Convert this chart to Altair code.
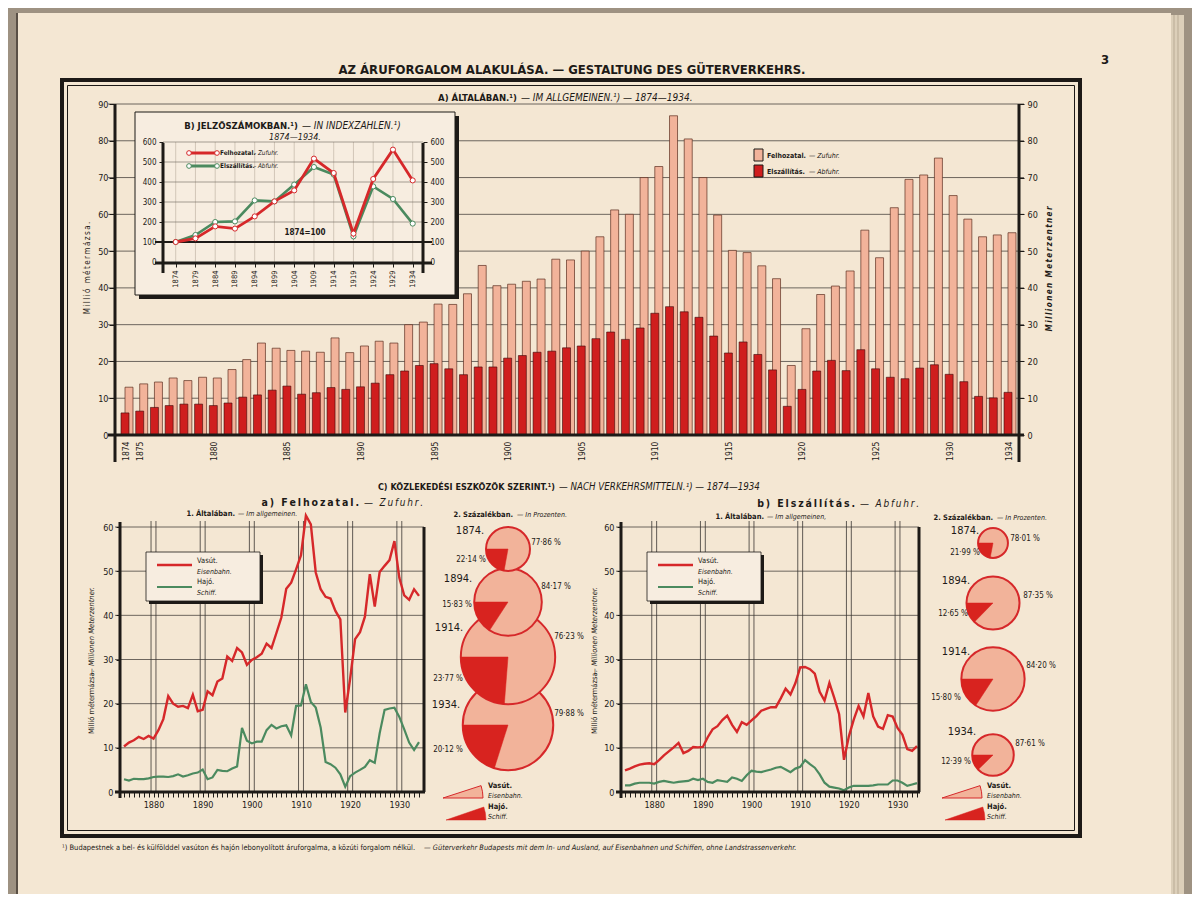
import altair as alt
import pandas as pd

W, H = 1184, 886


def cx(v):
    return v - 8


def cy(v):
    return v - 8


def off_left(x):
    return -(x - 8)


def off_right(x):
    return (x - 8) - W


def off_bottom(y):
    return (y - 8) - H


FONT = "Liberation Sans Narrow, DejaVu Sans Condensed, Roboto Condensed, Roboto, sans-serif"
BG = "#9e9282"
PAPER = "#f4e7d3"
BOXFILL = "#f7ede0"
INK = "#1d1a17"
GRID = "#4a4540"
RED = "#d6282a"
GREEN = "#4b8a5f"
LIGHT = "#f2b39a"
DARK = "#cf1e1e"
WEDGE = "#d8231f"

# ---------------- data ----------------
years = list(range(1874, 1935))
zufuhr_total = [13.0, 13.9, 14.4, 15.5, 14.8, 15.7, 15.5, 17.8, 20.5, 25.0,
                23.6, 23.0, 22.8, 22.5, 26.4, 22.4, 24.2, 25.5, 25.0, 30.0,
                30.7, 35.6, 35.5, 38.4, 46.1, 40.6, 41.0, 41.8, 42.4, 47.8,
                47.6, 50.0, 53.9, 61.2, 60.0, 70.0, 73.0, 86.8, 80.5, 70.0,
                59.8, 50.2, 49.6, 46.0, 42.5, 18.9, 28.9, 38.2, 40.5, 44.6,
                55.7, 48.2, 61.8, 69.5, 70.7, 75.3, 65.1, 58.7, 53.9, 54.4, 55.0]
abfuhr_total = [6.0, 6.5, 7.5, 8.0, 8.4, 8.4, 8.0, 8.7, 10.3, 10.9,
                12.2, 13.3, 11.1, 11.5, 12.9, 12.4, 13.1, 14.1, 16.4, 17.4,
                18.9, 19.4, 18.0, 16.4, 18.5, 18.5, 20.9, 21.6, 22.5, 22.8,
                23.7, 24.2, 26.2, 28.0, 26.0, 29.1, 33.1, 34.9, 33.5, 32.0,
                26.9, 22.3, 25.3, 21.9, 17.7, 7.8, 12.4, 17.4, 20.3, 17.5,
                23.2, 18.0, 15.7, 15.3, 18.2, 19.1, 16.5, 14.5, 10.5, 10.1, 11.6]
zufuhr_rail = [10.3, 11.2, 11.7, 12.5, 12.0, 12.7, 12.1, 14.0, 16.5, 21.7,
               20.0, 19.3, 19.5, 19.0, 22.0, 18.3, 18.6, 22.8, 21.9, 25.0,
               25.7, 30.7, 29.7, 32.6, 31.6, 28.8, 29.9, 30.5, 31.3, 33.6,
               32.6, 36.0, 39.5, 46.0, 47.4, 50.4, 53.6, 62.6, 60.6, 49.7,
               45.9, 44.2, 43.8, 41.0, 39.1, 18.0, 25.7, 34.6, 36.2, 39.7,
               49.3, 42.0, 49.8, 51.2, 52.5, 56.8, 48.5, 44.5, 43.5, 45.9, 44.4]
zufuhr_ship = [2.9, 2.6, 3.0, 2.9, 2.9, 3.1, 3.4, 3.5, 3.5, 3.4,
               3.6, 4.0, 3.5, 3.8, 4.2, 4.4, 5.1, 2.9, 3.3, 5.0,
               4.8, 4.7, 5.3, 5.8, 14.5, 11.6, 11.0, 11.4, 11.4, 14.0,
               15.2, 14.4, 14.9, 15.1, 12.8, 19.5, 19.6, 24.4, 20.4, 19.1,
               14.6, 6.8, 6.3, 5.5, 4.0, 1.2, 3.6, 4.4, 5.0, 5.7,
               7.2, 6.6, 13.3, 18.6, 18.9, 19.1, 17.0, 14.2, 11.2, 9.5, 11.3]
abfuhr_rail = [4.9, 5.3, 5.8, 6.2, 6.4, 6.5, 6.3, 7.2, 8.3, 9.2,
               10.1, 11.1, 8.8, 9.3, 10.2, 10.1, 10.2, 12.4, 14.2, 14.9,
               16.3, 17.3, 15.2, 13.6, 15.8, 15.2, 16.2, 17.2, 18.4, 18.8,
               19.2, 19.2, 21.2, 23.4, 22.1, 24.6, 28.2, 28.3, 27.8, 26.8,
               22.7, 20.7, 24.7, 21.3, 17.6, 7.3, 12.6, 16.4, 19.5, 17.1,
               22.4, 17.1, 14.8, 14.3, 17.4, 17.1, 14.5, 13.0, 9.7, 9.3, 10.4]
abfuhr_ship = [1.5, 1.5, 1.9, 2.1, 2.1, 2.1, 1.9, 2.3, 2.5, 2.3,
               2.1, 2.3, 2.4, 2.5, 3.0, 2.7, 3.0, 2.3, 2.1, 2.7,
               2.5, 2.3, 3.3, 3.0, 2.5, 3.8, 4.8, 4.6, 4.5, 4.8,
               5.1, 5.5, 5.7, 5.1, 4.5, 5.3, 5.7, 7.2, 6.3, 5.5,
               4.0, 2.1, 1.2, 1.0, 0.8, 0.4, 1.0, 1.4, 1.4, 1.4,
               1.4, 1.5, 1.7, 1.7, 1.7, 2.6, 2.6, 2.1, 1.4, 1.7, 2.0]

idx_years = list(range(1874, 1935, 5))
idx_zufuhr = [100, 118, 178, 167, 228, 303, 358, 517, 445, 142, 415, 562, 408]
idx_abfuhr = [100, 135, 200, 203, 308, 303, 387, 475, 437, 128, 378, 315, 192]

pie_years = [1874, 1894, 1914, 1934]
pie_zufuhr_ship = [22.14, 15.83, 23.77, 20.12]
pie_zufuhr_rail = [77.86, 84.17, 76.23, 79.88]
pie_abfuhr_ship = [21.99, 12.65, 15.80, 12.39]
pie_abfuhr_rail = [78.01, 87.35, 84.20, 87.61]

bar_labels = [1874, 1875] + list(range(1880, 1931, 5)) + [1934]
bar_y_ticks = list(range(0, 91, 10))
ins_ticks = list(range(0, 601, 100))
lc_ticks = list(range(0, 61, 10))
decades = list(range(1880, 1931, 10))

for s in (zufuhr_total, abfuhr_total, zufuhr_rail, zufuhr_ship, abfuhr_rail, abfuhr_ship):
    assert len(s) == len(years)

ONE = pd.DataFrame({"k": [0]})
layers = []
L = layers.append


def ax(**kw):
    base = dict(title=None, grid=False, labelFont=FONT, labelColor=INK,
                domainColor=INK, tickColor=INK, zindex=1, labelFlush=False,
                labelOverlap=False)
    base.update(kw)
    return alt.Axis(**base)


def box(x1, y1, x2, y2, fill="transparent", stroke="transparent", sw=0.0):
    return alt.Chart(ONE).mark_rect(fill=fill, stroke=stroke, strokeWidth=sw).encode(
        x=alt.value(cx(x1)), x2=alt.value(cx(x2)), y=alt.value(cy(y1)), y2=alt.value(cy(y2)))


def txt(x, y, s, size=9, weight="normal", style="normal", align="center", angle=0, color=INK):
    return alt.Chart(ONE).mark_text(text=s, fontSize=size, fontWeight=weight, fontStyle=style,
                                    align=align, baseline="middle", angle=angle, color=color,
                                    font=FONT).encode(x=alt.value(cx(x)), y=alt.value(cy(y)))


def hline(x1, x2, y, color=INK, sw=1.0):
    return alt.Chart(ONE).mark_rule(color=color, strokeWidth=sw).encode(
        x=alt.value(cx(x1)), x2=alt.value(cx(x2)), y=alt.value(cy(y)))


def vline(x, y1, y2, color=INK, sw=1.0):
    return alt.Chart(ONE).mark_rule(color=color, strokeWidth=sw).encode(
        x=alt.value(cx(x)), y=alt.value(cy(y1)), y2=alt.value(cy(y2)))


def spaced(s):
    return "\u2009".join(list(s))


def pct(v):
    return f"{v:.2f}".replace(".", "\u00b7") + " %"


# ---------------- page ----------------
L(box(17, 13, 1171, 900, fill=PAPER))
L(box(1171, 15, 1184, 900, fill="#dccfb9"))
L(vline(1174, 15, 900, "#b9ab95", 1))
L(vline(1178, 15, 900, "#b9ab95", 1))
L(vline(17, 13, 900, "#5a5046", 2))
L(box(62, 80, 1080, 836, stroke=INK, sw=4))
L(box(67.5, 85.5, 1074.5, 830.5, stroke=INK, sw=1))

L(txt(572, 70, "AZ ÁRUFORGALOM ALAKULÁSA. — GESTALTUNG DES GÜTERVERKEHRS.", size=13, weight="bold"))
L(txt(1105, 60, "3", size=13, weight="bold"))

# ---------------- A) bar chart ----------------
bar_df = pd.DataFrame({"year": years, "zufuhr": zufuhr_total, "abfuhr": abfuhr_total})
bar_x = alt.Scale(domain=[1874, 1934], range=[cx(125), cx(1008)], nice=False, zero=False, padding=0)
bar_y = alt.Scale(domain=[0, 90], range=[cy(435), cy(104)], nice=False, padding=0)

L(alt.Chart(pd.DataFrame({"v": bar_y_ticks[1:]})).mark_rule(color=GRID, strokeWidth=0.8).encode(
    y=alt.Y("v:Q", scale=bar_y, axis=ax(orient="right", offset=off_right(1019), values=bar_y_ticks,
                                         domain=False, tickSize=5, labelFontSize=9, labelPadding=3)),
    x=alt.value(cx(108)), x2=alt.value(cx(1024))))

L(alt.Chart(bar_df).mark_bar(size=8, xOffset=4, color=LIGHT, stroke="#5b2e1f", strokeWidth=0.7,
                             orient="vertical").encode(
    x=alt.X("year:Q", scale=bar_x, axis=ax(orient="bottom", offset=off_bottom(437), values=bar_labels,
                                            format="d", labelAngle=270, domain=False, ticks=False,
                                            labelFontSize=8.5, labelPadding=4)),
    y=alt.Y("zufuhr:Q", scale=bar_y, axis=ax(orient="left", offset=off_left(115), values=bar_y_ticks,
                                              domain=False, tickSize=6, labelFontSize=9, labelPadding=1))))
L(alt.Chart(bar_df).mark_bar(size=8, color=DARK, stroke="#3a0808", strokeWidth=0.6,
                             orient="vertical").encode(
    x=alt.X("year:Q", scale=bar_x, axis=None),
    y=alt.Y("abfuhr:Q", scale=bar_y, axis=None)))
L(hline(108, 1024, 435, INK, 3))
L(vline(115, 104, 462, INK, 3))
L(vline(1019, 104, 462, INK, 3))

L(txt(517, 98, "A) ÁLTALÁBAN.¹)", size=9.5, weight="bold", align="right"))
L(txt(521, 98, "— IM ALLGEMEINEN.¹) — 1874—1934.", size=10, style="italic", align="left"))
L(txt(88, 268, spaced("Millió métermázsa."), size=8, angle=270))
L(txt(1050, 269, spaced("Millionen Meterzentner"), size=8, weight="bold", style="italic", angle=270))

# bar legend
L(box(754, 149, 763, 161, fill=LIGHT, stroke=INK, sw=1))
L(txt(767, 156, "Felhozatal.", size=7, weight="bold", align="left"))
L(txt(809, 156, "— Zufuhr.", size=7, style="italic", align="left"))
L(box(754, 165, 763, 177, fill=DARK, stroke=INK, sw=1))
L(txt(767, 172, "Elszállítás.", size=7, weight="bold", align="left"))
L(txt(809, 172, "— Abfuhr.", size=7, style="italic", align="left"))

# ---------------- B) inset ----------------
L(box(139, 116, 459, 299, fill=INK))
L(box(135, 112, 455, 295, fill=BOXFILL, stroke=INK, sw=1))
idx_df = pd.DataFrame({"year": idx_years, "zufuhr": idx_zufuhr, "abfuhr": idx_abfuhr})
ins_x = alt.Scale(domain=[1874, 1934], range=[cx(175.7), cx(412.7)], nice=False, zero=False, padding=0)
ins_y = alt.Scale(domain=[0, 600], range=[cy(262), cy(142)], nice=False, padding=0)
L(alt.Chart(idx_df).mark_rule(color="#b9ad9d", strokeWidth=0.6).encode(
    x=alt.X("year:Q", scale=ins_x, axis=None), y=alt.value(cy(142)), y2=alt.value(cy(262))))
L(alt.Chart(pd.DataFrame({"v": ins_ticks[2:]})).mark_rule(color="#6b645c", strokeWidth=0.6).encode(
    y=alt.Y("v:Q", scale=ins_y, axis=None), x=alt.value(cx(163)), x2=alt.value(cx(423))))
L(alt.Chart(pd.DataFrame({"v": [idx_zufuhr[0]]})).mark_rule(color=INK, strokeWidth=2).encode(
    y=alt.Y("v:Q", scale=ins_y, axis=None), x=alt.value(cx(155)), x2=alt.value(cx(432))))
L(hline(155, 432, 263, INK, 3))
L(vline(163, 143, 273, INK, 3))
L(vline(423, 143, 273, INK, 3))
L(alt.Chart(idx_df).mark_line(color=GREEN, strokeWidth=2.6,
                              point=alt.OverlayMarkDef(filled=True, fill="white", stroke=GREEN,
                                                       strokeWidth=1, size=26)).encode(
    x=alt.X("year:Q", scale=ins_x, axis=None),
    y=alt.Y("abfuhr:Q", scale=ins_y, axis=ax(orient="right", offset=off_right(423), values=ins_ticks,
                                              domain=False, tickSize=4, labelFontSize=8, labelPadding=3))))
L(alt.Chart(idx_df).mark_line(color=RED, strokeWidth=2.8,
                              point=alt.OverlayMarkDef(filled=True, fill="white", stroke=RED,
                                                       strokeWidth=1, size=26)).encode(
    x=alt.X("year:Q", scale=ins_x, axis=ax(orient="bottom", offset=off_bottom(263), values=idx_years,
                                            format="d", labelAngle=270, domain=False, tickSize=4,
                                            labelFontSize=7.5, labelPadding=3)),
    y=alt.Y("zufuhr:Q", scale=ins_y, axis=ax(orient="left", offset=off_left(163), values=ins_ticks,
                                              domain=False, tickSize=4, labelFontSize=8, labelPadding=3))))
L(txt(298, 126, "B) JELZŐSZÁMOKBAN.¹)", size=9.5, weight="bold", align="right"))
L(txt(302, 126, "— IN INDEXZAHLEN.¹)", size=10, style="italic", align="left"))
L(txt(295, 137, "1874—1934.", size=9, style="italic"))
L(txt(305, 233, "1874=100", size=8, weight="bold"))
for yy, col, a, b in ((153, RED, "Felhozatal.", "- Zufuhr."), (166, GREEN, "Elszállítás.", "- Abfuhr.")):
    L(hline(189, 217, yy, col, 3))
    L(alt.Chart(ONE).mark_point(filled=True, fill="white", stroke=col, strokeWidth=1, size=22,
                                opacity=1).encode(x=alt.value(cx(189)), y=alt.value(cy(yy))))
    L(alt.Chart(ONE).mark_point(filled=True, fill="white", stroke=col, strokeWidth=1, size=22,
                                opacity=1).encode(x=alt.value(cx(217)), y=alt.value(cy(yy))))
    L(txt(220, yy, a, size=6.4, weight="bold", align="left"))
    L(txt(254, yy, b, size=6.4, style="italic", align="left"))

# ---------------- C) titles ----------------
L(txt(555, 487, "C) KÖZLEKEDÉSI ESZKÖZÖK SZERINT.¹)", size=9, weight="bold", align="right"))
L(txt(559, 487, "— NACH VERKEHRSMITTELN.¹) — 1874—1934", size=9.7, style="italic", align="left"))
L(txt(359, 503, spaced("a) Felhozatal."), size=10.5, weight="bold", align="right"))
L(txt(364, 503, spaced("— Zufuhr."), size=10, style="italic", align="left"))
L(txt(855, 504, spaced("b) Elszállítás."), size=10.5, weight="bold", align="right"))
L(txt(860, 504, spaced("— Abfuhr."), size=10, style="italic", align="left"))
L(txt(235, 514, "1. Általában.", size=7.5, weight="bold", align="right"))
L(txt(238, 514, "— Im allgemeinen.", size=7, style="italic", align="left"))
L(txt(764, 517, "1. Általában.", size=7.5, weight="bold", align="right"))
L(txt(767, 517, "— Im allgemeinen,", size=7, style="italic", align="left"))
L(txt(513, 515, "2. Százalékban.", size=7.5, weight="bold", align="right"))
L(txt(517, 515, "— In Prozenten.", size=7, style="italic", align="left"))
L(txt(993, 518, "2. Százalékban.", size=7.5, weight="bold", align="right"))
L(txt(997, 518, "— In Prozenten.", size=7, style="italic", align="left"))


# ---------------- line panels ----------------
def line_panel(rail, ship, x0, x1, ax_x, right_x, title_x, leg_x):
    df = pd.DataFrame({"year": years, "rail": rail, "ship": ship})
    xs = alt.Scale(domain=[1874, 1934], range=[cx(x0), cx(x1)], nice=False, zero=False, padding=0)
    ys = alt.Scale(domain=[0, 60], range=[cy(792), cy(527)], nice=False, padding=0)
    L(alt.Chart(pd.DataFrame({"v": lc_ticks[1:]})).mark_rule(color=GRID, strokeWidth=0.8).encode(
        y=alt.Y("v:Q", scale=ys, axis=None), x=alt.value(cx(ax_x - 5)), x2=alt.value(cx(right_x))))
    for delta in (-0.5, 0.5):
        L(alt.Chart(pd.DataFrame({"d": decades})).transform_calculate(p=f"datum.d + ({delta})")
          .mark_rule(color="#3a3632", strokeWidth=0.8).encode(
            x=alt.X("p:Q", scale=xs, axis=None), y=alt.value(cy(521)), y2=alt.value(cy(792))))
    L(alt.Chart(df).mark_line(color=GREEN, strokeWidth=2.2).encode(
        x=alt.X("year:Q", scale=xs, axis=None), y=alt.Y("ship:Q", scale=ys, axis=None)))
    L(alt.Chart(df).mark_line(color=RED, strokeWidth=2.4).encode(
        x=alt.X("year:Q", scale=xs, axis=ax(orient="bottom", offset=off_bottom(792), values=years,
                                             format="d", labelExpr="datum.value % 10 == 0 ? datum.label : ''",
                                             domain=False, tickSize=5, labelFontSize=9, labelPadding=3)),
        y=alt.Y("rail:Q", scale=ys, axis=ax(orient="left", offset=off_left(ax_x), values=lc_ticks,
                                             domain=False, tickSize=4, labelFontSize=9, labelPadding=3))))
    L(hline(ax_x - 5, right_x + 1, 792, INK, 3))
    L(vline(ax_x, 522, 798, INK, 3))
    L(vline(right_x, 527, 792, INK, 3))
    L(txt(title_x, 734, "Millió métermázsa.", size=7.5, angle=270, align="left"))
    L(txt(title_x, 675, "— Millionen Meterzentner.", size=7.5, style="italic", angle=270, align="left"))
    # legend box
    L(box(leg_x + 3, 555, leg_x + 117, 604, fill=INK))
    L(box(leg_x, 552, leg_x + 114, 601, fill=BOXFILL, stroke=INK, sw=0.8))
    L(hline(leg_x + 11, leg_x + 46, 565, RED, 2.5))
    L(hline(leg_x + 11, leg_x + 46, 587, GREEN, 2.2))
    L(txt(leg_x + 51, 561, "Vasút.", size=7.5, align="left"))
    L(txt(leg_x + 51, 572, "Eisenbahn.", size=7, style="italic", align="left"))
    L(txt(leg_x + 51, 582, "Hajó.", size=7.5, align="left"))
    L(txt(leg_x + 51, 593, "Schiff.", size=7, style="italic", align="left"))


line_panel(zufuhr_rail, zufuhr_ship, 124, 419, 120, 424, 92, 146)
line_panel(abfuhr_rail, abfuhr_ship, 625, 917, 621, 919, 595, 647)


# ---------------- pies ----------------
def pie_panel(pcx, y_stops, totals, ship_pct, rail_pct, labels, leg_x):
    df = pd.DataFrame({"year": pie_years, "total": totals, "ship": ship_pct})
    ys = alt.Scale(domain=pie_years, range=[cy(v) for v in y_stops], nice=False, zero=False)
    rs = alt.Scale(type="sqrt", domain=[0, 100], range=[0, 61], nice=False)
    order = list(reversed(pie_years))
    # full circles, later years underneath earlier ones
    for yr in order:
        L(alt.Chart(df).transform_filter(alt.datum.year == yr)
          .transform_calculate(t1="0", t2="2*PI").mark_arc(
            fill=LIGHT, stroke=RED, strokeWidth=2).encode(
            x=alt.value(cx(pcx)), y=alt.Y("year:Q", scale=ys, axis=None),
            theta=alt.Theta("t1:Q", scale=None, stack=False), theta2="t2:Q",
            radius=alt.Radius("total:Q", scale=rs)))
    for yr in order:
        L(alt.Chart(df).transform_filter(alt.datum.year == yr)
          .transform_calculate(t1="3*PI/2 - 2*PI*datum.ship/100", t2="3*PI/2").mark_arc(
            fill=WEDGE, stroke=WEDGE, strokeWidth=0.5).encode(
            x=alt.value(cx(pcx)), y=alt.Y("year:Q", scale=ys, axis=None),
            theta=alt.Theta("t1:Q", scale=None, stack=False), theta2="t2:Q",
            radius=alt.Radius("total:Q", scale=rs)))
    for i, (yr, rp, sp) in enumerate(zip(pie_years, rail_pct, ship_pct)):
        (yx, yy), (rx, ry), (sx, sy) = labels[i]
        L(txt(yx, yy, f"{yr}.", size=11))
        L(txt(rx, ry, pct(rp), size=8))
        L(txt(sx, sy, pct(sp), size=8))
    L(alt.Chart(ONE).mark_arc(theta=1.257, theta2=1.5708, radius=40, fill=LIGHT, stroke=RED,
                              strokeWidth=1).encode(x=alt.value(cx(leg_x)), y=alt.value(cy(798))))
    L(alt.Chart(ONE).mark_arc(theta=1.24, theta2=1.5708, radius=40, fill=WEDGE, stroke=WEDGE,
                              strokeWidth=0.5).encode(x=alt.value(cx(leg_x + 3)), y=alt.value(cy(820))))
    L(txt(leg_x + 45, 786, "Vasút.", size=7.5, weight="bold", align="left"))
    L(txt(leg_x + 45, 796, "Eisenbahn.", size=7, style="italic", align="left"))
    L(txt(leg_x + 45, 807, "Hajó.", size=7.5, weight="bold", align="left"))
    L(txt(leg_x + 45, 817, "Schiff.", size=7, style="italic", align="left"))


left_tot = [zufuhr_total[years.index(y)] for y in pie_years]
right_tot = [abfuhr_total[years.index(y)] for y in pie_years]
pie_panel(508, [549, 602, 657, 725], left_tot, pie_zufuhr_ship, pie_zufuhr_rail,
          [((470, 531), (546, 543), (471, 560)),
           ((458, 579), (556, 587), (457, 605)),
           ((449, 628), (569, 637), (448, 679)),
           ((446, 705), (569, 714), (448, 750))], 443)
pie_panel(993, [543, 603, 679, 755], right_tot, pie_abfuhr_ship, pie_abfuhr_rail,
          [((965, 531), (1025, 539), (965, 553)),
           ((956, 581), (1038, 596), (953, 614)),
           ((956, 652), (1041, 666), (946, 698)),
           ((962, 732), (1030, 744), (956, 762))], 942)

# ---------------- footnote ----------------
L(txt(62, 848, "¹) Budapestnek a bel- és külfölddel vasúton és hajón lebonyolított áruforgalma, a közúti forgalom nélkül.",
      size=7.5, align="left"))
L(txt(424, 848, "— Güterverkehr Budapests mit dem In- und Ausland, auf Eisenbahnen und Schiffen, ohne Landstrassenverkehr.",
      size=7.4, style="italic", align="left"))

chart = alt.layer(*layers).resolve_scale(
    x="independent", y="independent", theta="independent", radius="independent"
).properties(
    width=W, height=H, autosize=alt.AutoSizeParams(type="none"), padding=0, background=BG
).configure_view(strokeWidth=0)

chart.save("out.html", embed_options={"renderer": "svg", "actions": False})
